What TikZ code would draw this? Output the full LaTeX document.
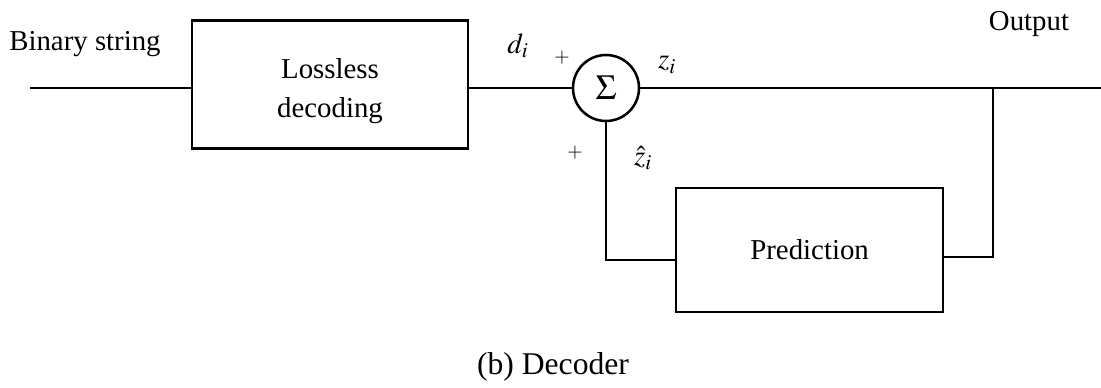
\documentclass[tikz,border=0pt]{standalone}
\usepackage{mathptmx}
\usepackage{fontspec}
\setmainfont{Liberation Serif}
\usetikzlibrary{positioning}

\begin{document}
\begin{tikzpicture}[line width=1.8pt, font=\fontsize{20.5}{24}\selectfont,
  blockbox/.style={draw, minimum width=6.9cm, minimum height=3.2cm, align=center, inner sep=0pt},
  sumnode/.style={draw, circle, minimum size=1.65cm, inner sep=0pt, font=\fontsize{25}{28}\selectfont},
  signlbl/.style={inner sep=0pt, font=\fontsize{14}{16}\selectfont},
  lbl/.style={inner sep=0pt}]

  % 参数
  \def\ymain{-2.2}   % 主信号线高度
  \def\xtap{24.825}  % 输出分支点

  \useasboundingbox (0,0) rectangle (27.525,-9.7);

  % 1. 方框与求和点
  \node[blockbox] (loss) at (8.25,-2.11) {};
  \node[lbl, align=center] (losstxt) at ([yshift=-0.17cm]loss.center) {Lossless\\[0.15cm]decoding};
  \node[sumnode] (sum) at (15.15,\ymain) {$\Sigma$};
  \node[blockbox, minimum width=6.675cm, minimum height=3.1cm] (pred) at (20.24,-6.25) {Prediction};

  % 2. 连线端点
  \coordinate (in) at (0.75,\ymain);
  \coordinate (out) at (27.525,\ymain);
  \coordinate (tap) at (\xtap,\ymain);
  \coordinate (fbR) at (\xtap,-6.425);
  \coordinate (fbL) at (15.15,-6.5);

  % 3. 信号线
  \draw (in) -- (in -| loss.west);
  \draw (loss.east |- sum.west) -- (sum.west);
  \draw (sum.east) -- (out);
  \draw (tap) -- (fbR) -- (fbR -| pred.east);
  \draw (sum.south) -- (fbL) -- (fbL -| pred.west);

  % 4. 标注
  \node[lbl] (bin) at (2.125,-1.1) {Binary string};
  \node[lbl] (di) at (12.95,-1.15) {$d_i$};
  \node[signlbl] (plusA) at (14.05,-1.45) {$+$};
  \node[signlbl] (plusB) at (14.375,-3.825) {$+$};
  \node[lbl] (zi) at (16.675,-1.625) {$z_i$};
  \node[lbl] (zhat) at (16.075,-3.95) {$\hat{z}_i$};
  \node[lbl] (outlbl) at (25.725,-0.6) {Output};
  \node[lbl, font=\fontsize{22.5}{26}\selectfont] (caption) at (13.825,-9.175) {(b) Decoder};

\end{tikzpicture}
\end{document}
